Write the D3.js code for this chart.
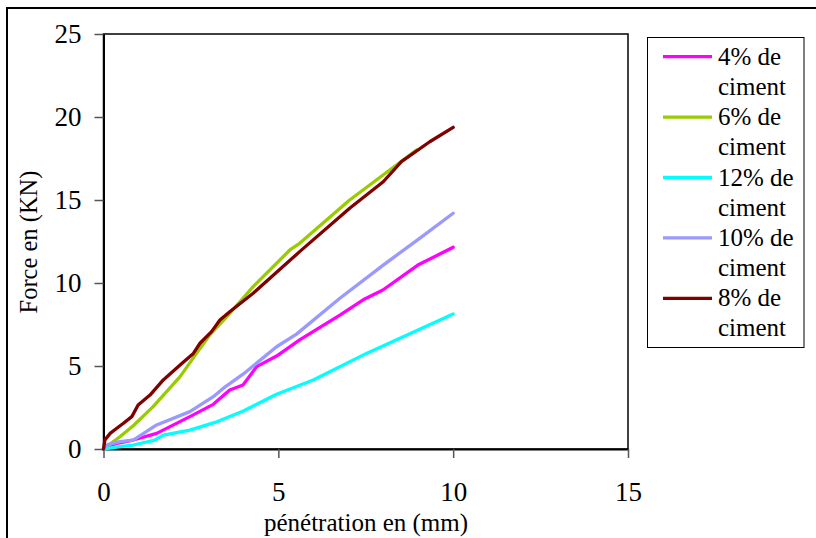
<!DOCTYPE html>
<html>
<head>
<meta charset="utf-8">
<script src="https://cdn.jsdelivr.net/npm/d3@7"></script>
<style>
  body { margin: 0; background: #fff; }
  text { font-family: "Liberation Serif", "DejaVu Serif", serif; }
</style>
</head>
<body>
<div id="chart"></div>
<script>
// Series data (x = pénétration mm, y = force KN)
const series4 = [[0,0],[0.1,0.15],[0.38,0.34],[0.85,0.54],[1.52,0.94],[2.47,1.95],[3.14,2.69],[3.61,3.55],[3.99,3.86],[4.38,4.96],[4.95,5.6],[5.61,6.57],[6.76,8.07],[7.47,9.04],[7.99,9.58],[8.99,11.08],[10,12.15]];
const series6 = [[0,0],[0.09,0.14],[0.47,0.74],[0.85,1.4],[1.42,2.55],[2.19,4.36],[2.66,5.76],[3.04,6.87],[3.57,8.07],[4.28,9.78],[5.33,11.99],[5.61,12.39],[7.04,15.0],[8.95,18.01]];
const series12 = [[0,0],[0.47,0.14],[0.85,0.24],[1.47,0.54],[1.71,0.84],[2.47,1.14],[3.19,1.6],[4.0,2.29],[4.95,3.3],[6.0,4.16],[7.52,5.76],[10,8.13]];
const series10 = [[0,0],[0.1,0.25],[0.47,0.44],[0.85,0.54],[1.52,1.45],[2.47,2.25],[3.14,3.15],[3.42,3.65],[4.0,4.52],[4.95,6.16],[5.52,6.92],[6.76,9.08],[8.0,11.08],[9.04,12.69],[10,14.2]];
const series8 = [[0,0],[0.04,0.54],[0.19,0.94],[0.38,1.25],[0.57,1.55],[0.81,1.95],[0.99,2.65],[1.33,3.25],[1.71,4.16],[2.19,5.06],[2.57,5.76],[2.76,6.37],[3.09,7.07],[3.33,7.77],[3.61,8.27],[4.28,9.38],[5.61,11.89],[7.04,14.5],[8.0,16.1],[8.52,17.31],[9.33,18.51],[10,19.38]];

const seriesNames = ['4% de ciment', '6% de ciment', '12% de ciment', '10% de ciment', '8% de ciment'];
const seriesColors = ['#ff00ff', '#99cc00', '#00ffff', '#9999ff', '#800000'];
const seriesData = [series4, series6, series12, series10, series8];

const xTicks = [0, 5, 10, 15];
const yTicks = [0, 5, 10, 15, 20, 25];

const width = 816, height = 538;
const plot = {left: 103.5, right: 628, top: 34, bottom: 449};
const serif = '"Liberation Serif", "DejaVu Serif", serif';

const svg = d3.select('#chart')
    .append('svg')
    .attr('width', width)
    .attr('height', height);

// Outer chart frame
svg.append('rect')
    .attr('x', 7).attr('y', 8)
    .attr('width', width + 20).attr('height', height + 20)
    .attr('fill', 'none')
    .attr('stroke', '#000')
    .attr('stroke-width', 2);

const x = d3.scaleLinear().domain([0, 15]).range([plot.left, plot.right]);
const y = d3.scaleLinear().domain([0, 25]).range([plot.bottom, plot.top]);

// Plot area border
svg.append('rect')
    .attr('x', plot.left).attr('y', plot.top)
    .attr('width', plot.right - plot.left).attr('height', plot.bottom - plot.top)
    .attr('fill', 'none')
    .attr('stroke', '#000')
    .attr('stroke-width', 1.5);

// Axes
const xAxis = svg.append('g')
    .attr('transform', `translate(0,${plot.bottom})`)
    .call(d3.axisBottom(x).tickValues(xTicks).tickSize(9).tickPadding(24).tickSizeOuter(0));

const yAxis = svg.append('g')
    .attr('transform', `translate(${plot.left},0)`)
    .call(d3.axisLeft(y).tickValues(yTicks).tickSize(9).tickPadding(13).tickSizeOuter(0));

[xAxis, yAxis].forEach(a => {
    a.attr('font-family', serif);
    a.select('.domain').attr('stroke', '#000').attr('stroke-width', 2);
    a.selectAll('.tick line').attr('stroke', '#555').attr('stroke-width', 1.5);
    a.selectAll('.tick text')
        .attr('fill', '#000')
        .style('font-family', serif)
        .style('font-size', '27px');
});

// Axis titles
svg.append('text')
    .attr('x', 366)
    .attr('y', 531)
    .attr('text-anchor', 'middle')
    .style('font-family', serif)
    .style('font-size', '25px')
    .text('pénétration en (mm)');

svg.append('text')
    .attr('transform', 'rotate(-90)')
    .attr('x', -242)
    .attr('y', 37)
    .attr('text-anchor', 'middle')
    .style('font-family', serif)
    .style('font-size', '24.5px')
    .text('Force en (KN)');

// Lines
const line = d3.line()
    .x(d => x(d[0]))
    .y(d => y(d[1]));

svg.append('g')
    .selectAll('path')
    .data(seriesData)
    .enter()
    .append('path')
    .attr('d', line)
    .attr('fill', 'none')
    .attr('stroke', (d, i) => seriesColors[i])
    .attr('stroke-width', 3.3)
    .attr('stroke-linejoin', 'round')
    .attr('stroke-linecap', 'round');

// Legend
const legend = svg.append('g');
legend.append('rect')
    .attr('x', 647.5).attr('y', 37.5)
    .attr('width', 156.5).attr('height', 310)
    .attr('fill', '#fff')
    .attr('stroke', '#000')
    .attr('stroke-width', 1);

const legendItems = legend.selectAll('.legend-item')
    .data(seriesNames)
    .enter()
    .append('g')
    .attr('class', 'legend-item')
    .attr('transform', (d, i) => `translate(0, ${56.7 + i * 60.4})`);

legendItems.append('line')
    .attr('x1', 663).attr('x2', 712)
    .attr('y1', 0).attr('y2', 0)
    .attr('stroke', (d, i) => seriesColors[i])
    .attr('stroke-width', 3.3);

const lt = legendItems.append('text')
    .attr('x', 718)
    .attr('y', 8)
    .style('font-family', serif)
    .style('font-size', '25px');
lt.append('tspan').attr('x', 718).attr('dy', 0).text(d => d.split(' ')[0] + ' de');
lt.append('tspan').attr('x', 718).attr('dy', 30).text('ciment');
</script>
</body>
</html>
